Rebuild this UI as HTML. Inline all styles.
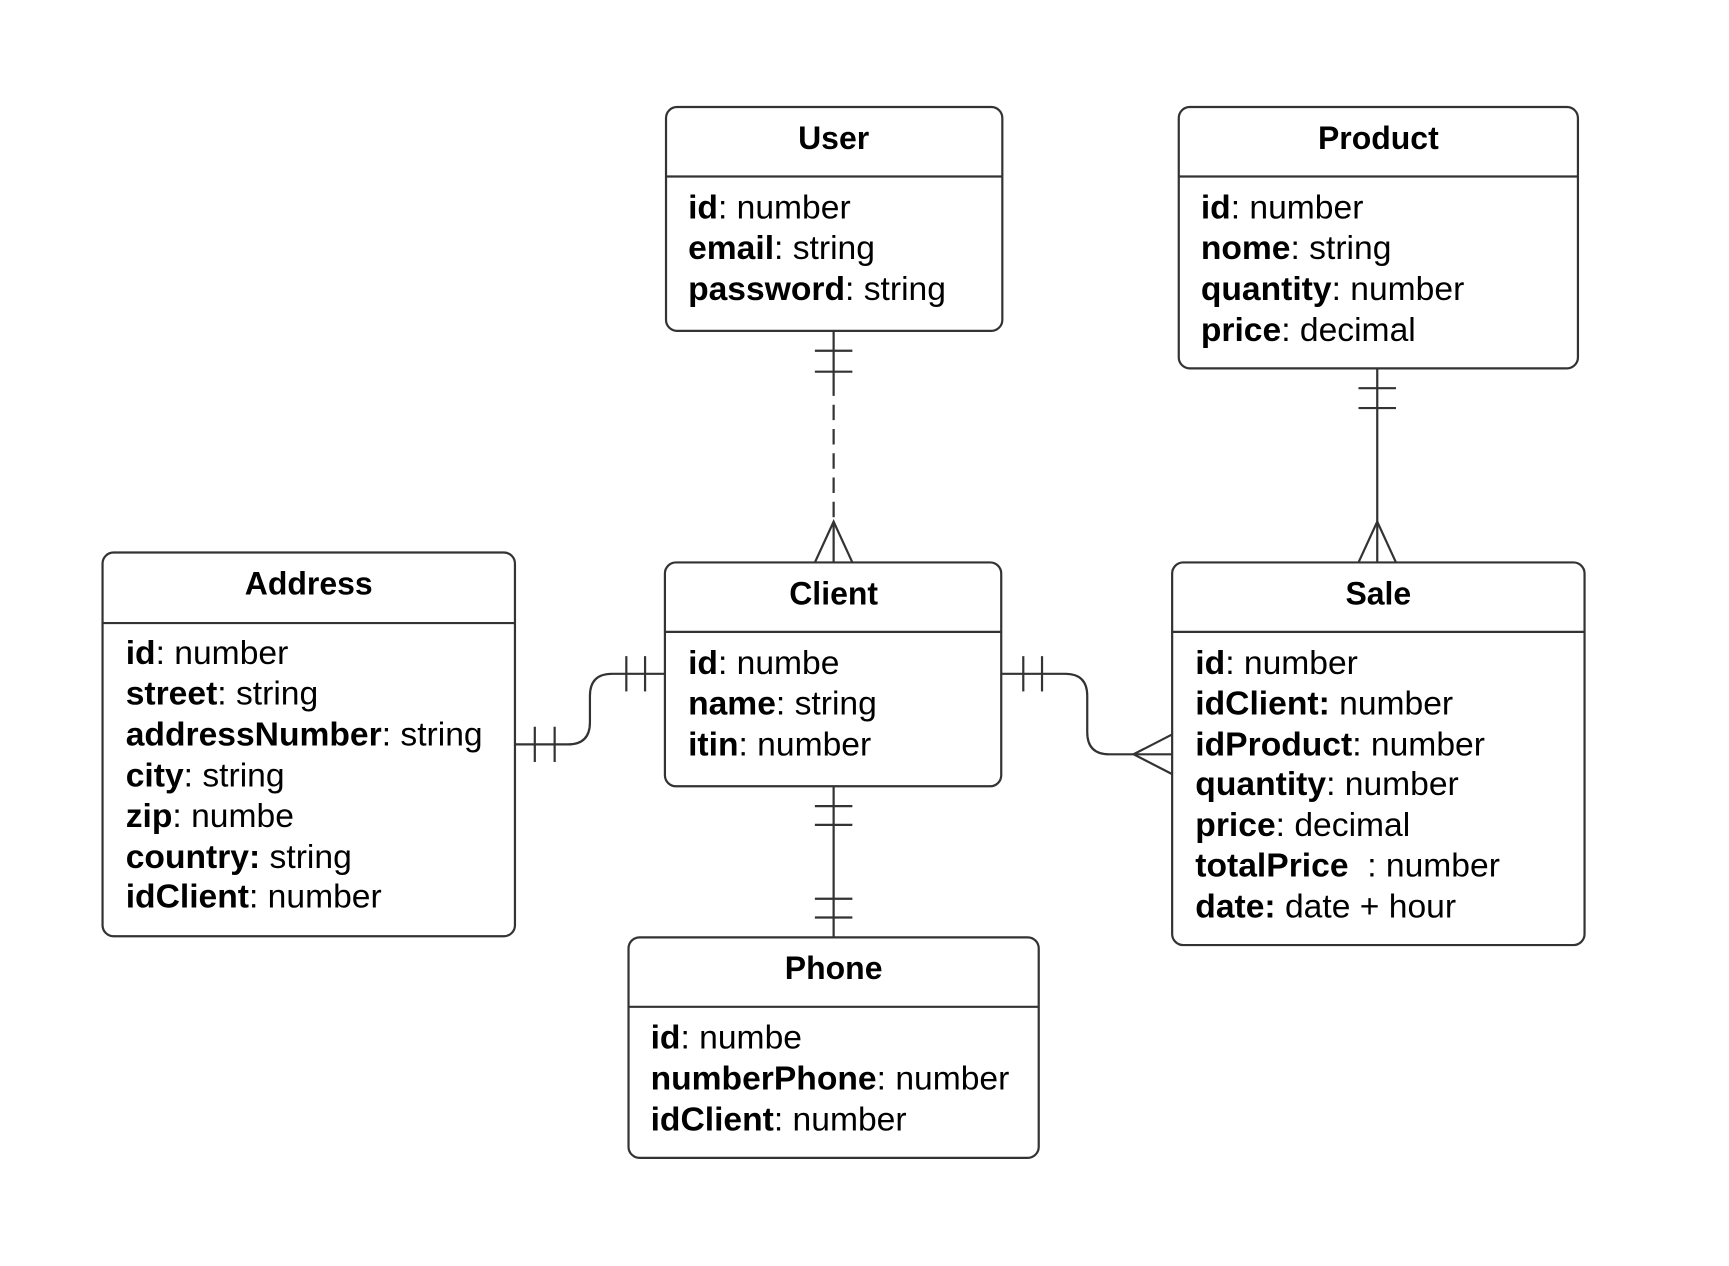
<!DOCTYPE html>
<html><head><meta charset="utf-8"><style>
html,body{margin:0;padding:0;background:#fff;}
svg{display:block;}
text{font-family:"Liberation Sans",Arial,sans-serif;font-size:30.5px;fill:#000;}
.t{font-weight:bold;text-anchor:middle;font-size:29px;}
.b{font-weight:bold;}
</style></head><body>
<svg width="1729" height="1266" viewBox="0 0 1568 1148" xmlns="http://www.w3.org/2000/svg">
<g fill="none" stroke="#333" stroke-width="2">
<rect x="604" y="97" width="305" height="203" rx="10"/><line x1="604" y1="160" x2="909" y2="160"/>
<rect x="1069" y="97" width="362" height="237" rx="10"/><line x1="1069" y1="160" x2="1431" y2="160"/>
<rect x="93" y="501" width="374" height="348" rx="10"/><line x1="93" y1="565" x2="467" y2="565"/>
<rect x="603" y="510" width="305" height="203" rx="10"/><line x1="603" y1="573" x2="908" y2="573"/>
<rect x="1063" y="510" width="374" height="347" rx="10"/><line x1="1063" y1="573" x2="1437" y2="573"/>
<rect x="570" y="850" width="372" height="200" rx="10"/><line x1="570" y1="913" x2="942" y2="913"/>
<line x1="756" y1="300" x2="756" y2="345"/>
<line x1="756" y1="345" x2="756" y2="473" stroke-dasharray="14,8"/>
<line x1="756" y1="473" x2="756" y2="510"/>
<line x1="739" y1="318" x2="773" y2="318"/><line x1="739" y1="337" x2="773" y2="337"/>
<polyline points="739,510 756,473 773,510"/>
<line x1="1249" y1="334" x2="1249" y2="510"/>
<line x1="1232" y1="352" x2="1266" y2="352"/><line x1="1232" y1="370" x2="1266" y2="370"/>
<polyline points="1232,510 1249,473 1266,510"/>
<line x1="756" y1="713" x2="756" y2="850"/>
<line x1="739" y1="731" x2="773" y2="731"/><line x1="739" y1="748" x2="773" y2="748"/>
<line x1="739" y1="815" x2="773" y2="815"/><line x1="739" y1="832" x2="773" y2="832"/>
<path d="M467 675 H515 Q535 675 535 655 V631 Q535 611 555 611 H603"/>
<line x1="485" y1="659" x2="485" y2="691"/><line x1="503" y1="659" x2="503" y2="691"/>
<line x1="568" y1="595" x2="568" y2="627"/><line x1="585" y1="595" x2="585" y2="627"/>
<path d="M908 611 H966 Q986 611 986 631 V664 Q986 684 1006 684 H1063"/>
<line x1="928" y1="595" x2="928" y2="627"/><line x1="945" y1="595" x2="945" y2="627"/>
<polyline points="1063,666 1028,684 1063,702"/>
</g>
<text class="t" x="756" y="135">User</text>
<text x="624" y="198"><tspan class="b">id</tspan>: number</text>
<text x="624" y="235"><tspan class="b">email</tspan>: string</text>
<text x="624" y="272"><tspan class="b">password</tspan>: string</text>
<text class="t" x="1250" y="135">Product</text>
<text x="1089" y="198"><tspan class="b">id</tspan>: number</text>
<text x="1089" y="235"><tspan class="b">nome</tspan>: string</text>
<text x="1089" y="272"><tspan class="b">quantity</tspan>: number</text>
<text x="1089" y="309"><tspan class="b">price</tspan>: decimal</text>
<text class="t" x="280" y="539">Address</text>
<text x="114" y="602"><tspan class="b">id</tspan>: number</text>
<text x="114" y="639"><tspan class="b">street</tspan>: string</text>
<text x="114" y="676"><tspan class="b">addressNumber</tspan>: string</text>
<text x="114" y="713"><tspan class="b">city</tspan>: string</text>
<text x="114" y="750"><tspan class="b">zip</tspan>: numbe</text>
<text x="114" y="787"><tspan class="b">country:</tspan> string</text>
<text x="114" y="823"><tspan class="b">idClient</tspan>: number</text>
<text class="t" x="756" y="548">Client</text>
<text x="624" y="611"><tspan class="b">id</tspan>: numbe</text>
<text x="624" y="648"><tspan class="b">name</tspan>: string</text>
<text x="624" y="685"><tspan class="b">itin</tspan>: number</text>
<text class="t" x="1250" y="548">Sale</text>
<text x="1084" y="611"><tspan class="b">id</tspan>: number</text>
<text x="1084" y="648"><tspan class="b">idClient:</tspan> number</text>
<text x="1084" y="685"><tspan class="b">idProduct</tspan>: number</text>
<text x="1084" y="721"><tspan class="b">quantity</tspan>: number</text>
<text x="1084" y="758"><tspan class="b">price</tspan>: decimal</text>
<text x="1084" y="795" xml:space="preserve"><tspan class="b">totalPrice</tspan>  : number</text>
<text x="1084" y="832"><tspan class="b">date:</tspan> date + hour</text>
<text class="t" x="756" y="888">Phone</text>
<text x="590" y="951"><tspan class="b">id</tspan>: numbe</text>
<text x="590" y="988"><tspan class="b">numberPhone</tspan>: number</text>
<text x="590" y="1025"><tspan class="b">idClient</tspan>: number</text>
</svg>
</body></html>
